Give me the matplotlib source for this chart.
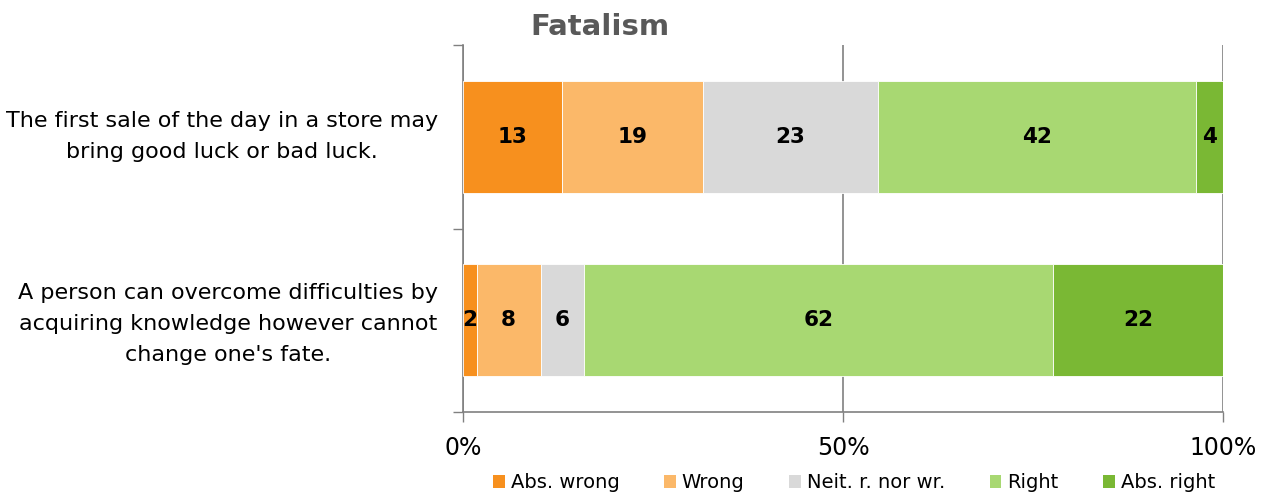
import matplotlib
matplotlib.use("Agg")
import matplotlib.pyplot as plt
from matplotlib.patches import Patch
import numpy as np

categories = ["The first sale of the day in a store may\nbring good luck or bad luck.",
              "A person can overcome difficulties by\nacquiring knowledge however cannot\nchange one's fate."]
series_names = ["Abs. wrong", "Wrong", "Neit. r. nor wr.", "Right", "Abs. right"]
abs_wrong = [13.0, 1.8]
wrong = [18.6, 8.4]
neither = [23.0, 5.7]
right = [41.8, 61.7]
abs_right = [3.6, 22.4]
labels_row = [[13, 19, 23, 42, 4], [2, 8, 6, 62, 22]]
colors = ["#F7901E", "#FBB869", "#D9D9D9", "#A8D872", "#7AB834"]
tick_labels = ["0%", "50%", "100%"]
title = "Fatalism"

fig = plt.figure(figsize=(12.73, 4.95), dpi=100)
ax = fig.add_axes([463/1273, 1-412/495, 760/1273, 367/495])

series = [abs_wrong, wrong, neither, right, abs_right]
ypos = np.array([1.5, 0.5])
left = np.zeros(2)
for i, (vals, c) in enumerate(zip(series, colors)):
    vals = np.array(vals)
    ax.barh(ypos, vals, left=left, height=0.61, color=c, edgecolor="white", linewidth=0.6, zorder=3)
    for j in range(2):
        ax.text(left[j] + vals[j]/2, ypos[j], str(labels_row[j][i]), ha="center", va="center",
                fontsize=15.5, fontweight="bold", color="black", zorder=4)
    left += vals

ax.set_xlim(0, 100)
ax.set_ylim(0, 2)
ax.set_xticks([0, 50, 100])
ax.set_xticklabels(tick_labels, fontsize=17)
ax.tick_params(axis="x", length=7, width=1, color="#808080", pad=10, direction="out")
ax.set_yticks(ypos)
ax.set_yticklabels([])
ax.tick_params(axis="y", length=0)
label_offsets = [0.0, -0.011]
for j, lab in enumerate(categories):
    ax.text(-0.033, ypos[j] / 2 + label_offsets[j], lab, transform=ax.transAxes, ha="right",
            va="center", multialignment="center", fontsize=16, linespacing=1.7)
ax.set_yticks([0, 1, 2], minor=True)
ax.tick_params(axis="y", which="minor", length=7, width=1, color="#808080", direction="out")
for s in ["top", "right"]:
    ax.spines[s].set_visible(False)
for s in ["left", "bottom"]:
    ax.spines[s].set_color("#808080")
    ax.spines[s].set_linewidth(1.2)
ax.xaxis.grid(True, color="#808080", linewidth=1.2, zorder=1)
ax.set_axisbelow(True)

fig.text(600/1273, 1-27/495, title, ha="center", va="center", fontsize=21,
         fontweight="bold", color="#595959")

handles = [Patch(facecolor=c, edgecolor="none") for c in colors]
fig.legend(handles, series_names, loc="center", bbox_to_anchor=(854/1273, 1-483/495), ncol=5,
           frameon=False, prop={"size": 14},
           handlelength=0.6, handleheight=0.6, handletextpad=0.3, columnspacing=2.3)

fig.savefig("out.png", dpi=100)
